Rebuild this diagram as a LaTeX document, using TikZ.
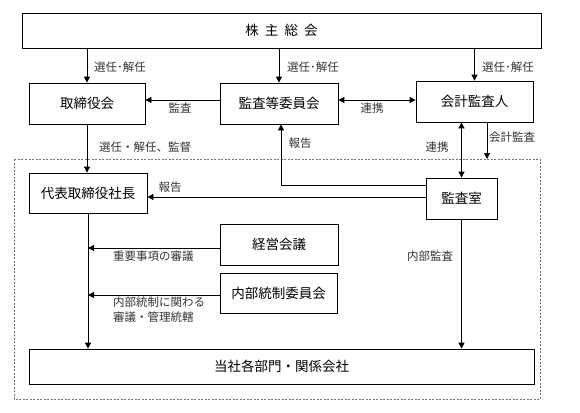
\documentclass[tikz,border=0pt]{standalone}
\usepackage{fontspec}
\setmainfont{Noto Sans CJK JP}
\usetikzlibrary{arrows.meta}
\usetikzlibrary{calc}

\tikzset{
  box/.style={draw, line width=0.8pt, inner sep=0pt, font=\fontsize{13.5}{16}\selectfont},
  lbl/.style={font=\fontsize{11.5}{15}\selectfont, text=black!80, inner sep=0pt},
  conn/.style={line width=0.8pt, -{Stealth[length=6pt,width=6pt,inset=0pt]}},
  conntwo/.style={line width=0.8pt, {Stealth[length=6pt,width=6pt,inset=0pt]}-{Stealth[length=6pt,width=6pt,inset=0pt]}},
}

\begin{document}
\begin{tikzpicture}[x=1pt,y=-1pt]
      \useasboundingbox (0,0) rectangle (580,412);
      \draw [black!55, line width=0.6pt, dash pattern=on 2pt off 1.5pt] (14,159) coordinate (fr-nw) rectangle (540,399) coordinate (fr-se);
      \node [box, minimum width=519, minimum height=35] (sh) at (281.5,30.5) {株\hspace{0.45em}主\hspace{0.45em}総\hspace{0.45em}会};
      \node [box, minimum width=116, minimum height=41] (tb) at (87,103.5) {取締役会};
      \node [box, minimum width=118, minimum height=41] (kt) at (279,103.5) {監査等委員会};
      \node [box, minimum width=117, minimum height=41] (ka) at (474.5,101.5) {会計監査人};
      \node [box, minimum width=118, minimum height=40] (dh) at (88,193) {代表取締役社長};
      \node [box, minimum width=71, minimum height=41] (ks) at (461.5,198.5) {監査室};
      \node [box, minimum width=118, minimum height=41] (kk) at (279,244.5) {経営会議};
      \node [box, minimum width=117, minimum height=40] (nt) at (278.5,293) {内部統制委員会};
      \node [box, minimum width=505, minimum height=35] (ts) at (281.5,366.5) {当社各部門・関係会社};
      \draw [conn] (sh.south -| tb.north) -- (tb.north);
      \draw [conn] (sh.south -| kt.north) -- (kt.north);
      \draw [conn] (sh.south -| ka.north) -- (ka.north);
      \draw [conn] ([yshift=3.5pt]kt.west) -- ([yshift=3.5pt]kt.west -| tb.east);
      \draw [conntwo] ([yshift=3.5pt]kt.east) -- ([yshift=3.5pt]kt.east -| ka.west);
      \draw [conn] (tb.south) -- (tb.south |- dh.north);
      \draw [conn] ([yshift=13.5pt]ks.west) -| ([xshift=2pt]kt.south);
      \draw [conn] ([yshift=1.5pt]ks.west) -- ([yshift=1.5pt]ks.west -| dh.east);
      \draw [conntwo] (ks.north |- ka.south) -- (ks.north);
      \draw [conn] ([xshift=12.5pt]ka.south) -- ([xshift=12.5pt]ka.south |- fr-nw);
      \draw [conn] (dh.south) -- (dh.south |- ts.north);
      \draw [conn] ([yshift=-3.5pt]kk.west) -- ([yshift=-3.5pt]kk.west -| dh.south);
      \draw [conn] ([yshift=-2pt]nt.west) -- ([yshift=-2pt]nt.west -| dh.south);
      \draw [conn] (ks.south) -- (ks.south |- ts.north);
      \node [lbl, anchor=west] (l-sn1) at (94,67) {選任･解任};
      \node [lbl, anchor=west] (l-sn2) at (287,67) {選任･解任};
      \node [lbl, anchor=west] (l-sn3) at (482,67) {選任･解任};
      \node [lbl] (l-kansa) at (180,108) {監査};
      \node [lbl] (l-renkei1) at (372,108) {連携};
      \node [lbl, anchor=west] (l-sn4) at (99,147) {選任・解任、監督};
      \node [lbl] (l-hokoku1) at (300,143) {報告};
      \node [lbl] (l-renkei2) at (437,147) {連携};
      \node [lbl, anchor=west] (l-kaikei) at (489,137) {会計監査};
      \node [lbl] (l-hokoku2) at (170,187) {報告};
      \node [lbl, anchor=west] (l-juyo) at (113,256) {重要事項の審議};
      \node [lbl, anchor=west, align=left] (l-naibu) at (113,309.5) {内部統制に関わる\\審議・管理統轄};
      \node [lbl] (l-naikan) at (430,256) {内部監査};
    \end{tikzpicture}
\end{document}
